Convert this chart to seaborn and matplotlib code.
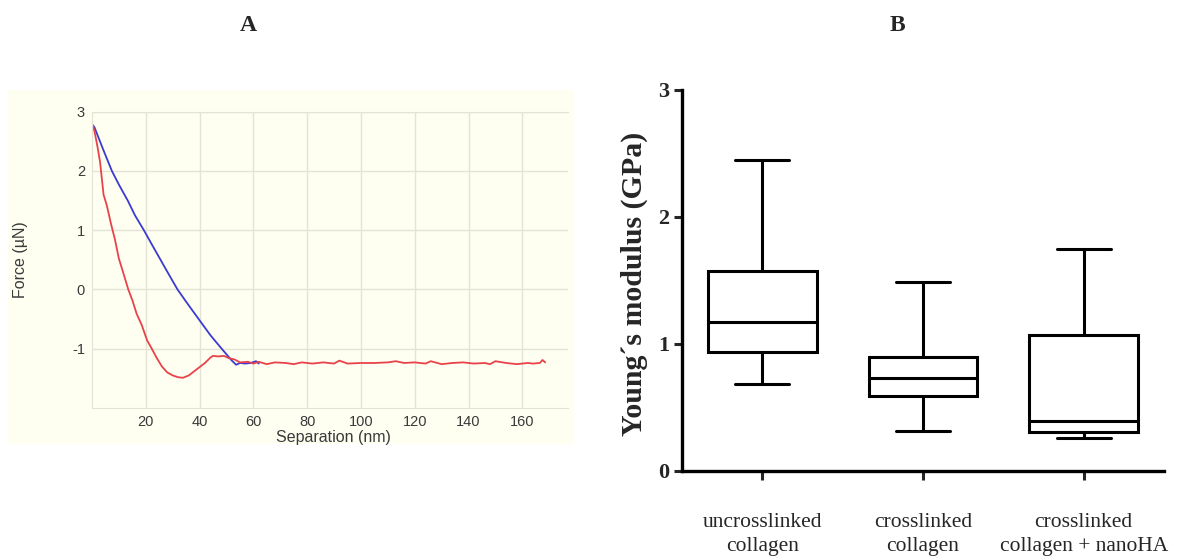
import numpy as np
import pandas as pd
import matplotlib
matplotlib.use("Agg")
import matplotlib.pyplot as plt
from matplotlib.patches import Rectangle
import seaborn as sns

# panel A: force curve
blue_sep = [0.8, 4, 7.4, 10, 13.3, 16, 19.3, 22.5, 25.5, 28.5,
            31.8, 36, 40, 44, 48.6, 52, 53.6, 55, 57, 59, 61, 62]
blue_force = [2.75, 2.38, 2.0, 1.77, 1.5, 1.25, 1.0, 0.74, 0.5, 0.26,
              0.0, -0.27, -0.52, -0.77, -1.02, -1.2, -1.27, -1.24, -1.25, -1.24, -1.21, -1.25]

red_sep = [0.3, 1, 2, 3, 4.3, 5.5, 7, 8.5, 10, 11.5,
           13.5, 15, 16.6, 18.5, 20.5, 22, 24, 26, 28, 30,
           32, 33.8, 36, 38, 40, 42, 44, 45, 47, 49,
           51, 53, 55, 58, 60, 62, 65, 68, 72, 75,
           78, 82, 86, 90, 92, 95, 100, 105, 110, 113,
           116, 120, 124, 126, 130, 134, 138, 142, 146, 148,
           150, 154, 158, 162, 164, 166.5, 167.5, 168.5]
red_force = [2.78, 2.65, 2.42, 2.15, 1.6, 1.42, 1.12, 0.85, 0.52, 0.3,
             0.0, -0.18, -0.41, -0.6, -0.86, -0.98, -1.15, -1.3, -1.4, -1.45,
             -1.48, -1.49, -1.45, -1.38, -1.31, -1.24, -1.15, -1.12, -1.13, -1.12,
             -1.16, -1.18, -1.23, -1.22, -1.25, -1.22, -1.26, -1.23, -1.24, -1.26,
             -1.23, -1.25, -1.23, -1.25, -1.2, -1.25, -1.24, -1.24, -1.23, -1.21,
             -1.24, -1.23, -1.25, -1.21, -1.26, -1.24, -1.23, -1.25, -1.24, -1.26,
             -1.21, -1.24, -1.26, -1.24, -1.25, -1.24, -1.19, -1.23]

sep_ticks = [20, 40, 60, 80, 100, 120, 140, 160]
force_ticks = [-1, 0, 1, 2, 3]

# panel B: box stats (min, q1, median, q3, max)
groups = ["uncrosslinked\ncollagen", "crosslinked\ncollagen", "crosslinked\ncollagen + nanoHA"]
uncross = [0.68, 0.935, 1.17, 1.57, 2.45]
cross = [0.31, 0.59, 0.73, 0.895, 1.485]
cross_ha = [0.255, 0.308, 0.395, 1.066, 1.75]

df = pd.DataFrame({
    "group": [groups[0]] * 5 + [groups[1]] * 5 + [groups[2]] * 5,
    "modulus": uncross + cross + cross_ha,
})

sns.set_style("white")
plt.rcParams["font.family"] = ["Liberation Sans", "DejaVu Sans"]
plt.rcParams["axes.unicode_minus"] = False

cream = "#fefef1"
gridc = "#e4e4d6"
txt = "#3a3a3a"

fig = plt.figure(figsize=(11.78, 5.6), dpi=100)
fig.patches.append(Rectangle((0.0068, 0.207), 0.4805, 0.632, transform=fig.transFigure,
                             facecolor=cream, edgecolor="none", zorder=-5))

# ---- panel A
axA = fig.add_axes([0.0781, 0.2714, 0.4041, 0.5291])
axA.set_facecolor(cream)
sns.lineplot(x=blue_sep, y=blue_force, sort=False, estimator=None, color="#3b3bd2", lw=1.3, ax=axA)
sns.lineplot(x=red_sep, y=red_force, sort=False, estimator=None, color="#e8434a", lw=1.3, ax=axA)
axA.set_xlim(0, 177)
axA.set_ylim(-2, 3)
axA.set_xticks(sep_ticks)
axA.set_yticks(force_ticks)
axA.grid(True, color=gridc, lw=1)
axA.tick_params(length=0, labelsize=10.5, labelcolor=txt)
axA.tick_params(axis="x", pad=5)
axA.tick_params(axis="y", pad=5)
for s in ["left", "bottom", "top"]:
    axA.spines[s].set_color(gridc)
axA.spines["right"].set_visible(False)
axA.set_xlabel("Separation (nm)", fontsize=11.5, color=txt)
axA.set_ylabel("Force (\u00b5N)", fontsize=11.5, color=txt)
axA.xaxis.set_label_coords(0.508, -0.075)
axA.yaxis.set_label_coords(-0.134, 0.5)

# ---- panel B
axB = fig.add_axes([0.5789, 0.1595, 0.4092, 0.6798])
sns.boxplot(data=df, x="group", y="modulus", order=groups, color="white", linecolor="black",
            linewidth=2.2, width=0.675, whis=(0, 100), fliersize=0, ax=axB)
axB.set_ylim(0, 3)
axB.set_xlim(-0.5, 2.5)
axB.set_yticks([0, 1, 2, 3])
sns.despine(ax=axB)
for s in ["left", "bottom"]:
    axB.spines[s].set_linewidth(2.4)
    axB.spines[s].set_color("black")
axB.tick_params(axis="y", direction="out", length=6, width=2.2, pad=3, left=True)
axB.tick_params(axis="x", direction="out", length=6.5, width=2.2, pad=24, bottom=True)
for lab in axB.get_yticklabels():
    lab.set_fontfamily("Liberation Serif")
    lab.set_fontweight("bold")
    lab.set_fontsize(16)
for lab in axB.get_xticklabels():
    lab.set_fontfamily("Liberation Serif")
    lab.set_fontsize(15.5)
    lab.set_linespacing(1.35)
axB.set_xlabel("")
axB.set_ylabel("Young\u00b4s modulus (GPa)", fontfamily="Liberation Serif", fontweight="bold", fontsize=21.5)
axB.yaxis.set_label_coords(-0.07, 0.49)

fig.text(0.2105, 0.955, "A", family="Liberation Serif", weight="bold", fontsize=17, ha="center", va="center")
fig.text(0.762, 0.955, "B", family="Liberation Serif", weight="bold", fontsize=17, ha="center", va="center")

fig.savefig("out.png", dpi=100)
